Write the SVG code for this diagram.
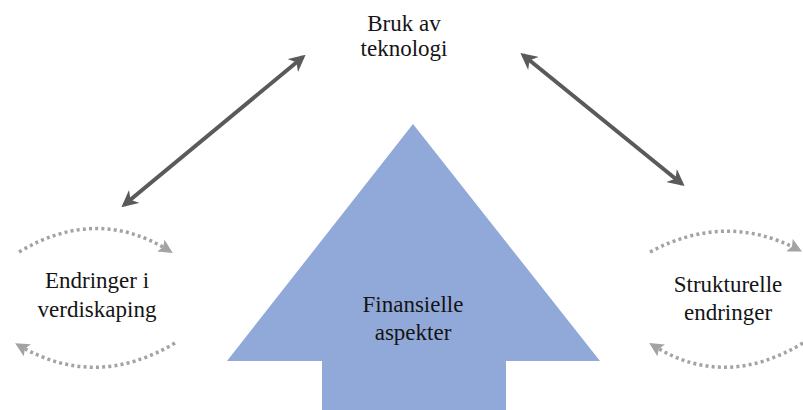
<svg xmlns="http://www.w3.org/2000/svg" width="803" height="410" viewBox="0 0 803 410">
<defs>
<marker id="ah" viewBox="0 0 10 10" refX="8" refY="5" markerWidth="4.2" markerHeight="4.2" orient="auto-start-reverse" markerUnits="strokeWidth">
<path d="M0,0 L10,5 L0,10 L3,5 Z" fill="#5a5a5a"/>
</marker>
<marker id="dh" viewBox="0 0 10 10" refX="6" refY="5" markerWidth="4" markerHeight="4" orient="auto" markerUnits="strokeWidth">
<path d="M0,0 L10,5 L0,10 L2,5 Z" fill="#a3a3a3"/>
</marker>
<style>
.t{font-family:"Liberation Serif","Times New Roman",serif;font-size:23px;fill:#141414;text-anchor:middle}
.big{stroke:#5a5a5a;stroke-width:4;fill:none}
.dot{stroke:#a3a3a3;stroke-width:3.5;fill:none;stroke-dasharray:3 3.2}
</style>
</defs>
<g id="finansielle">
<path d="M413,124 L600,361 L506,361 L506,410 L322,410 L322,361 L227,361 Z" fill="#91a9d9"/>
<text class="t" x="413" y="312">Finansielle</text>
<text class="t" x="413" y="340">aspekter</text>
</g>
<g id="teknologi">
<text class="t" x="404" y="31">Bruk av</text>
<text class="t" x="404" y="56">teknologi</text>
</g>
<g id="verdiskaping">
<text class="t" x="97" y="288">Endringer i</text>
<text class="t" x="97" y="317">verdiskaping</text>
</g>
<g id="strukturelle">
<text class="t" x="728" y="292">Strukturelle</text>
<text class="t" x="728" y="320">endringer</text>
</g>
<g id="connectors">
<line class="big" x1="124" y1="205" x2="303" y2="57" marker-start="url(#ah)" marker-end="url(#ah)"/>
<line class="big" x1="523" y1="55" x2="682" y2="184" marker-start="url(#ah)" marker-end="url(#ah)"/>
<path class="dot" d="M19,252 Q96,206 168,250" marker-end="url(#dh)"/>
<path class="dot" d="M175,343 Q96,390 20,346" marker-end="url(#dh)"/>
<path class="dot" d="M650,252 Q725,212 797,249" marker-end="url(#dh)"/>
<path class="dot" d="M803,343 Q725,390 654,346" marker-end="url(#dh)"/>
</g>
</svg>
